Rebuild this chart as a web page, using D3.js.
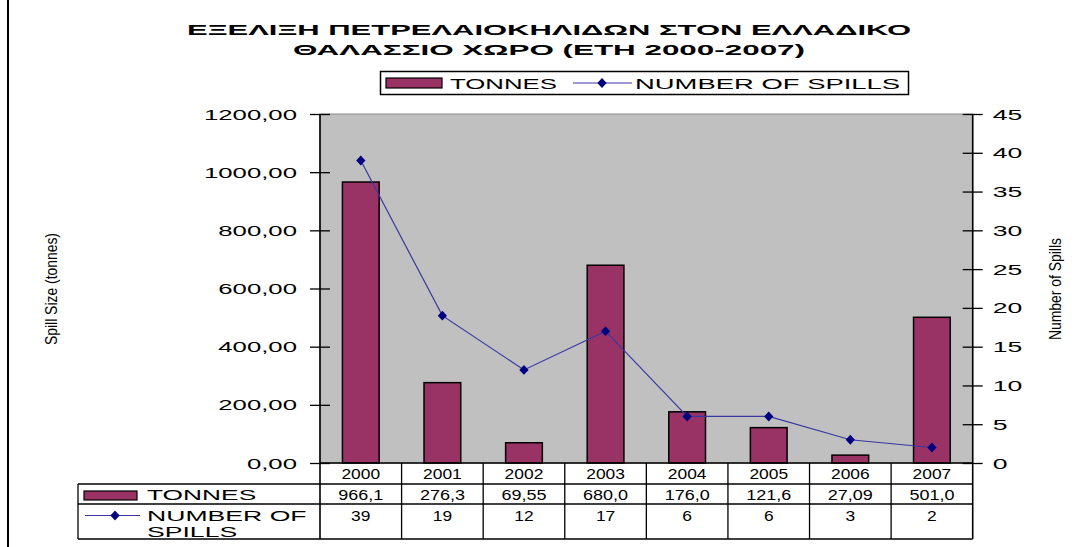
<!DOCTYPE html>
<html>
<head>
<meta charset="utf-8">
<script src="https://cdn.jsdelivr.net/npm/d3@7"></script>
<style>
  body { margin: 0; background: #fff; }
  svg { display: block; }
  text { font-family: "Liberation Sans", Arial, sans-serif; fill: #000; }
</style>
</head>
<body>
<svg id="chart" width="1087" height="547"></svg>
<script>
// data
const years = ["2000", "2001", "2002", "2003", "2004", "2005", "2006", "2007"];
const tonnes = [966.1, 276.3, 69.55, 680.0, 176.0, 121.6, 27.09, 501.0];
const spills = [39, 19, 12, 17, 6, 6, 3, 2];
const tonneTicks = [0, 200, 400, 600, 800, 1000, 1200];
const spillTicks = [0, 5, 10, 15, 20, 25, 30, 35, 40, 45];
const titleLines = ["ΕΞΕΛΙΞΗ ΠΕΤΡΕΛΑΙΟΚΗΛΙΔΩΝ ΣΤΟΝ ΕΛΛΑΔΙΚΟ", "ΘΑΛΑΣΣΙΟ ΧΩΡΟ (ΕΤΗ 2000-2007)"];
const seriesNames = ["TONNES", "NUMBER OF SPILLS"];

const barColor = "#993366";
const lineColor = "#3838a0";
const markColor = "#000080";

let svg = d3.select("#chart");

let plot = {left: 320, right: 972.7, top: 114, bottom: 463};
let table = {left: 78, row1: 484, row2: 504, bottom: 539};

let x = d3.scaleBand().domain(years).range([plot.left, plot.right]).padding(0);
let yL = d3.scaleLinear().domain([0, 1200]).range([plot.bottom, plot.top]);
let yR = d3.scaleLinear().domain([0, 45]).range([plot.bottom, plot.top]);

let fmtTick = d => d3.format(".2f")(d).replace(".", ",");
let fmtVal = d => d3.format(".4r")(d).replace(".", ",");

// stretched text helper (the original chart is wide)
let wide = function(sel, x0, y0, sx){
    sel.attr("x", 0).attr("y", 0)
        .attr("transform", `translate(${x0},${y0}) scale(${sx},1)`);
    return sel;
};

let diamond = d3.symbol(d3.symbolDiamond, 44)();

// left frame line
svg.append("line")
    .attr("x1", 8).attr("x2", 8).attr("y1", 0).attr("y2", 547)
    .style("stroke", "#000").style("stroke-width", 2);

// title
titleLines.forEach((t, i) => {
    svg.append("text")
        .attr("x", 549).attr("y", 35 + i * 19.5)
        .attr("text-anchor", "middle")
        .style("font-weight", "bold")
        .style("font-size", "15.5px")
        .attr("textLength", i === 0 ? 724 : 512)
        .attr("lengthAdjust", "spacingAndGlyphs")
        .text(t);
});

// legend
let legend = svg.append("g");
legend.append("rect")
    .attr("x", 380.5).attr("y", 71.5).attr("width", 528).attr("height", 23)
    .style("fill", "#fff").style("stroke", "#000").style("stroke-width", 1.5);
legend.append("rect")
    .attr("x", 386).attr("y", 78).attr("width", 56).attr("height", 10)
    .style("fill", barColor).style("stroke", "#000").style("stroke-width", 1.2);
wide(legend.append("text").style("font-size", "14px").text(seriesNames[0]), 450, 89, 1.84);
legend.append("line")
    .attr("x1", 573).attr("x2", 632).attr("y1", 83).attr("y2", 83)
    .style("stroke", lineColor).style("stroke-width", 1.2);
legend.append("path")
    .attr("d", diamond)
    .attr("transform", "translate(602,83) scale(1.3,0.8)")
    .style("fill", markColor);
wide(legend.append("text").style("font-size", "14px").text(seriesNames[1]), 635, 89, 1.96);

// plot background
svg.append("rect")
    .attr("x", plot.left).attr("y", plot.top)
    .attr("width", plot.right - plot.left).attr("height", plot.bottom - plot.top)
    .style("fill", "#c0c0c0").style("stroke", "#8c8c8c").style("stroke-width", 1);

// bars
let bw = x.bandwidth() * 0.45;
svg.append("g").selectAll("rect")
    .data(tonnes)
    .enter().append("rect")
    .attr("x", (d, i) => x(years[i]) + x.bandwidth() / 2 - bw / 2)
    .attr("y", d => yL(d))
    .attr("width", bw)
    .attr("height", d => yL(0) - yL(d))
    .style("fill", barColor)
    .style("stroke", "#000")
    .style("stroke-width", 1.5);

// spills line
let line = d3.line()
    .x((d, i) => x(years[i]) + x.bandwidth() / 2)
    .y(d => yR(d));

svg.append("path")
    .datum(spills)
    .attr("d", line)
    .style("fill", "none")
    .style("stroke", lineColor)
    .style("stroke-width", 1.2);

svg.append("g").selectAll("path")
    .data(spills)
    .enter().append("path")
    .attr("d", diamond)
    .attr("transform", (d, i) => `translate(${x(years[i]) + x.bandwidth() / 2},${yR(d)}) scale(1.3,0.8)`)
    .style("fill", markColor);

// axes
let axL = svg.append("g")
    .attr("transform", `translate(${plot.left},0)`)
    .call(d3.axisLeft(yL).tickValues(tonneTicks).tickFormat(fmtTick).tickSize(10).tickSizeOuter(0));
let axR = svg.append("g")
    .attr("transform", `translate(${plot.right},0)`)
    .call(d3.axisRight(yR).tickValues(spillTicks).tickSize(10).tickSizeOuter(0));

[axL, axR].forEach(ax => {
    ax.select(".domain").remove();
    ax.selectAll(".tick line")
        .attr("x1", -10).attr("x2", 10)
        .style("stroke", "#000").style("stroke-width", 1.3);
});
axL.selectAll(".tick text").each(function(){
    let t = d3.select(this);
    t.attr("dy", null).style("font-size", "14px").style("font-family", null).attr("fill", null);
    wide(t, -23, 5, 1.84);
});
axR.selectAll(".tick text").each(function(){
    let t = d3.select(this);
    t.attr("dy", null).style("font-size", "14px").style("font-family", null).attr("fill", null);
    wide(t, 20, 5, 1.9);
});

// axis lines, extended down into the data table
let frame = svg.append("g").style("stroke", "#000");
frame.append("line").attr("x1", plot.left).attr("x2", plot.left).attr("y1", plot.top).attr("y2", table.bottom).style("stroke-width", 1.6);
frame.append("line").attr("x1", plot.right).attr("x2", plot.right).attr("y1", plot.top).attr("y2", table.bottom).style("stroke-width", 1.6);
frame.append("line").attr("x1", plot.left).attr("x2", plot.right).attr("y1", plot.bottom).attr("y2", plot.bottom).style("stroke-width", 1.6);

// data table
let grid = svg.append("g").style("stroke", "#000").style("stroke-width", 1.3);
years.slice(1).forEach(y => {
    grid.append("line").attr("x1", x(y)).attr("x2", x(y)).attr("y1", plot.bottom).attr("y2", table.bottom);
});
[table.row1, table.row2, table.bottom].forEach(yy => {
    grid.append("line").attr("x1", table.left).attr("x2", plot.right).attr("y1", yy).attr("y2", yy);
});
grid.append("line").attr("x1", table.left).attr("x2", table.left).attr("y1", table.row1).attr("y2", table.bottom);

let cells = svg.append("g").style("font-size", "15px");
years.forEach((y, i) => {
    let cx = x(y) + x.bandwidth() / 2;
    wide(cells.append("text").attr("text-anchor", "middle").text(y), cx, 478.5, 1.16);
    wide(cells.append("text").attr("text-anchor", "middle").text(fmtVal(tonnes[i])), cx, 499.5, 1.2);
    wide(cells.append("text").attr("text-anchor", "middle").text(spills[i]), cx, 521, 1.16);
});

// row headers
svg.append("rect")
    .attr("x", 84).attr("y", 491).attr("width", 53).attr("height", 9)
    .style("fill", barColor).style("stroke", "#000").style("stroke-width", 1.2);
wide(svg.append("text").style("font-size", "14px").text(seriesNames[0]), 147, 500, 1.88);
svg.append("line")
    .attr("x1", 85).attr("x2", 140).attr("y1", 515.5).attr("y2", 515.5)
    .style("stroke", lineColor).style("stroke-width", 1.2);
svg.append("path")
    .attr("d", diamond)
    .attr("transform", "translate(115,515.5) scale(1.3,0.8)")
    .style("fill", markColor);
wide(svg.append("text").style("font-size", "14px").text("NUMBER OF"), 147, 521, 1.9);
wide(svg.append("text").style("font-size", "14px").text("SPILLS"), 147, 537, 1.9);

// axis titles
svg.append("text")
    .attr("transform", "translate(57,289) rotate(-90)")
    .attr("text-anchor", "middle")
    .style("font-size", "17px")
    .attr("textLength", 112).attr("lengthAdjust", "spacingAndGlyphs")
    .text("Spill Size (tonnes)");
svg.append("text")
    .attr("transform", "translate(1061,289) rotate(-90)")
    .attr("text-anchor", "middle")
    .style("font-size", "17px")
    .attr("textLength", 102).attr("lengthAdjust", "spacingAndGlyphs")
    .text("Number of Spills");
</script>
</body>
</html>
